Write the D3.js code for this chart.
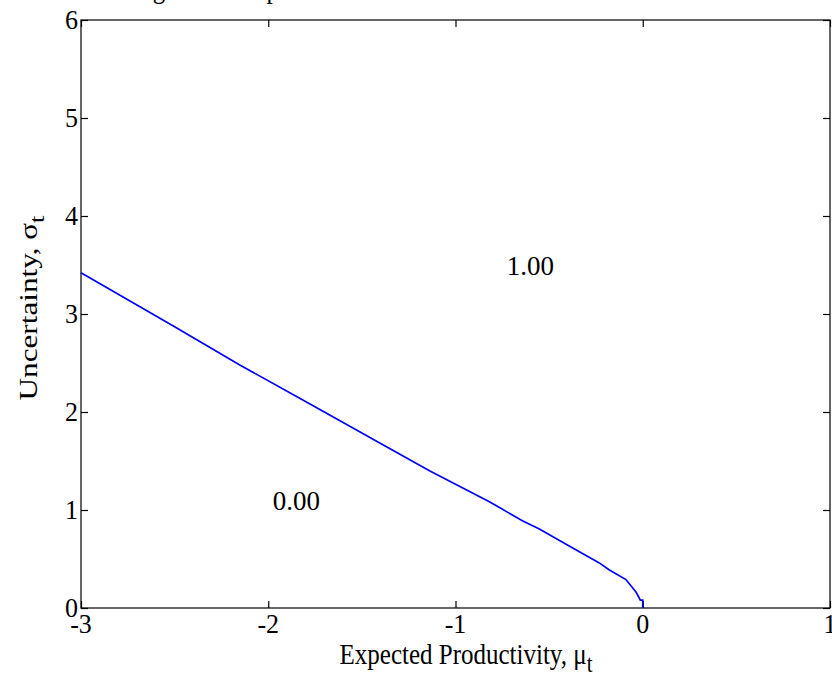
<!DOCTYPE html>
<html><head><meta charset="utf-8">
<script src="https://cdn.jsdelivr.net/npm/d3@7"></script>
<style>body{margin:0;background:#fff}svg{display:block}text{font-family:"Liberation Serif","Times New Roman",serif;fill:#000}</style>
</head><body>
<svg id="c" width="832" height="685"></svg>
<script>
const muVals    = [-3, -2.5, -2.152, -1.832, -1.5, -1.139, -0.819, -0.643, -0.552, -0.4, -0.232, -0.18, -0.09, -0.035, -0.013, 0, 0];
const sigmaVals = [3.42, 2.87, 2.48, 2.14, 1.785, 1.40, 1.085, 0.89, 0.806, 0.64, 0.46, 0.39, 0.29, 0.16, 0.08, 0.08, 0];
const xTicks = [-3, -2, -1, 0, 1];
const yTicks = [0, 1, 2, 3, 4, 5, 6];
const regionLabels = [{mu: -0.6, sigma: 3.5, text: "1.00"}, {mu: -1.85, sigma: 1.1, text: "0.00"}];

const svg = d3.select("#c");
const L = 81, R = 830, T = 20, B = 608;
const x = d3.scaleLinear().domain([-3, 1]).range([L, R]);
const y = d3.scaleLinear().domain([0, 6]).range([B, T]);
const tl = 7;

function addText(px, py, anchor, size, sy, extra) {
  return svg.append("text")
    .attr("transform", `translate(${px},${py}) scale(1,${sy})` + (extra || ""))
    .attr("text-anchor", anchor).attr("font-size", size);
}

// title (mostly outside view)
addText(100, -2, "start", 25, 1.2).text("Hiring Decision p");

// box
svg.append("rect").attr("x", L).attr("y", T).attr("width", R - L).attr("height", B - T)
  .attr("fill", "none").attr("stroke", "#000").attr("stroke-width", 1.2);

const gx = svg.append("g").attr("transform", `translate(0,${B})`)
  .call(d3.axisBottom(x).tickValues(xTicks).tickSize(-tl).tickFormat(""));
const gxt = svg.append("g").attr("transform", `translate(0,${T})`)
  .call(d3.axisTop(x).tickValues(xTicks).tickSize(-tl).tickFormat(""));
const gy = svg.append("g").attr("transform", `translate(${L},0)`)
  .call(d3.axisLeft(y).tickValues(yTicks).tickSize(-tl).tickFormat(""));
const gyr = svg.append("g").attr("transform", `translate(${R},0)`)
  .call(d3.axisRight(y).tickValues(yTicks).tickSize(-tl).tickFormat(""));
[gx, gxt, gy, gyr].forEach(g => {
  g.select(".domain").remove();
  g.selectAll("line").attr("stroke", "#000").attr("stroke-width", 1.2);
  g.selectAll("text").remove();
});

// tick labels
xTicks.forEach(v => addText(x(v), B + 25, "middle", 26, 1.05).text(String(v)));
yTicks.forEach(v => addText(L - 3, y(v) + 9, "end", 26, 1.05).text(String(v)));

// boundary line
const pts = muVals.map((m, i) => [m, sigmaVals[i]]);
svg.append("path").datum(pts)
  .attr("d", d3.line().x(d => x(d[0])).y(d => y(d[1])))
  .attr("fill", "none").attr("stroke", "#0000ff").attr("stroke-width", 1.7);

// region labels
regionLabels.forEach(r => addText(x(r.mu), y(r.sigma) + 10, "middle", 27, 1.05).text(r.text));

// axis labels
const xl = addText(466, 664, "middle", 25, 1.2);
xl.append("tspan").text("Expected Productivity, \u03bc");
xl.append("tspan").attr("dy", 7).attr("font-size", 21).text("t");

const yl = addText(37, 308, "middle", 26, 1.2, " rotate(-90)");
yl.append("tspan").text("Uncertainty, \u03c3");
yl.append("tspan").attr("dy", 7).attr("font-size", 22).text("t");
</script>
</body></html>
